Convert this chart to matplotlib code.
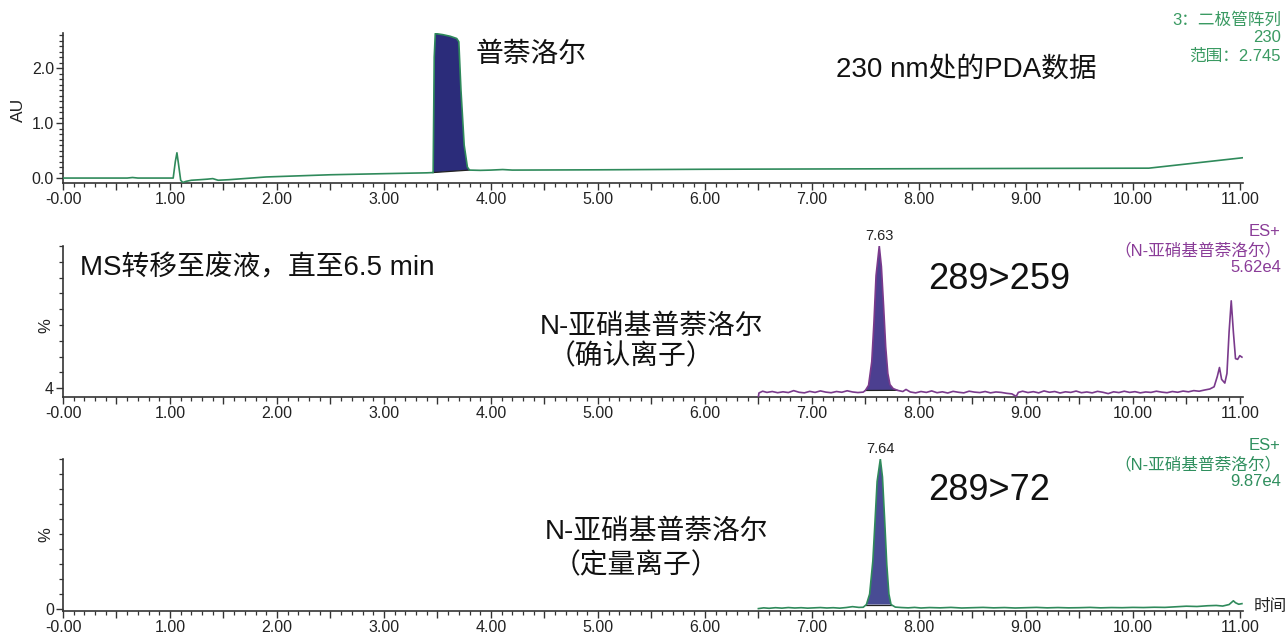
import matplotlib
matplotlib.use('Agg')
import matplotlib.pyplot as plt
from matplotlib.ticker import MultipleLocator, FixedLocator, FuncFormatter, NullFormatter

plt.rcParams['font.family'] = ['Liberation Sans', 'Noto Sans CJK SC', 'DejaVu Sans']

W, H = 1286, 634

# --- PDA channel, 230 nm (time in min, absorbance in AU) ---
pda_t = [0.00, 0.60, 0.65, 0.70, 1.03, 1.05, 1.065, 1.08, 1.10, 1.12, 1.15, 1.20,
         1.28, 1.35, 1.40, 1.45, 1.55, 1.90, 2.50, 3.00, 3.40, 3.46, 3.47, 3.48,
         3.55, 3.62, 3.68, 3.70, 3.72, 3.75, 3.78, 3.80, 3.90, 4.00, 4.11, 4.20,
         5.00, 6.00, 7.00, 8.00, 9.00, 10.15, 11.03]
pda_au = [0.00, 0.00, 0.01, 0.00, 0.00, 0.30, 0.46, 0.25, -0.04, -0.08, -0.06, -0.04,
          -0.03, -0.02, -0.01, -0.04, -0.03, 0.02, 0.06, 0.08, 0.095, 0.10, 2.20, 2.63,
          2.61, 2.58, 2.54, 2.48, 1.60, 0.60, 0.20, 0.145, 0.14, 0.145, 0.155, 0.145,
          0.15, 0.16, 0.165, 0.17, 0.175, 0.18, 0.37]
pda_window = (3.46, 3.80)

# --- MRM 289>259 (confirming ion), % of 5.62e4 ---
q_t = [6.50, 6.505, 6.54, 6.58, 6.63, 6.68, 6.73, 6.78, 6.83, 6.88, 6.93, 6.98,
       7.03, 7.08, 7.13, 7.18, 7.23, 7.28, 7.33, 7.38, 7.43, 7.48, 7.50, 7.53,
       7.56, 7.58, 7.60, 7.63, 7.65, 7.67, 7.69, 7.71, 7.73, 7.76, 7.80, 7.85,
       7.88, 7.92, 7.97, 8.02, 8.07, 8.12, 8.17, 8.22, 8.27, 8.32, 8.37, 8.42,
       8.47, 8.52, 8.57, 8.62, 8.67, 8.72, 8.77, 8.82, 8.87, 8.91, 8.93, 8.97,
       9.02, 9.07, 9.12, 9.17, 9.22, 9.27, 9.32, 9.37, 9.42, 9.47, 9.52, 9.57,
       9.62, 9.67, 9.72, 9.77, 9.82, 9.87, 9.92, 9.97, 10.02, 10.07, 10.12, 10.17,
       10.22, 10.27, 10.32, 10.37, 10.42, 10.47, 10.52, 10.57, 10.62, 10.67, 10.72,
       10.76, 10.79, 10.81, 10.83, 10.86, 10.88, 10.90, 10.92, 10.94, 10.96, 10.98,
       11.00, 11.02]
q_pct = [-1.9, 0.8, 2.0, 1.2, 1.8, 1.0, 1.6, 1.1, 2.4, 1.3, 0.9, 1.9,
         1.2, 2.2, 1.4, 1.0, 1.8, 1.3, 2.3, 1.5, 1.1, 1.4, 2.5, 6.0,
         22.0, 48.0, 80.0, 100.0, 86.0, 60.0, 32.0, 14.0, 6.5, 3.8, 2.6, 1.8,
         3.2, 1.5, 0.9, 1.8, 1.2, 2.2, 1.0, 1.6, 0.8, 1.9, 1.3, 0.9,
         2.0, 1.4, 1.1, 1.8, 0.9, 1.5, 1.2, 0.6, 0.2, -1.5, 1.2, 2.0,
         1.1, 1.7, 0.9, 2.2, 1.3, 1.8, 0.8, 1.6, 1.2, 2.1, 1.0, 1.5,
         0.9, 1.9, 1.3, 0.4, 1.6, 1.1, 2.0, 1.2, 1.7, 0.9, 1.5, 1.2,
         2.0, 1.4, 1.0, 1.8, 1.3, 2.1, 1.6, 2.4, 2.0, 2.8, 3.5,
         5.0, 12.0, 18.0, 10.0, 7.5, 14.0, 42.0, 63.0, 42.0, 24.0, 23.5,
         26.0, 25.0]
q_window = (7.49, 7.80)
q_rt = 7.63

# --- MRM 289>72 (quantifying ion), % of 9.87e4 ---
m_t = [6.50, 6.55, 6.60, 6.66, 6.72, 6.78, 6.84, 6.90, 6.96, 7.02, 7.08, 7.14,
       7.20, 7.26, 7.32, 7.38, 7.44, 7.48, 7.51, 7.54, 7.57, 7.59, 7.61, 7.64,
       7.66, 7.68, 7.70, 7.72, 7.74, 7.78, 7.84, 7.90, 7.96, 8.02, 8.10, 8.20,
       8.30, 8.40, 8.50, 8.60, 8.70, 8.80, 8.90, 9.00, 9.10, 9.20, 9.30, 9.40,
       9.50, 9.60, 9.70, 9.80, 9.90, 10.00, 10.10, 10.20, 10.30, 10.40, 10.50,
       10.60, 10.70, 10.78, 10.84, 10.90, 10.94, 10.96, 10.99, 11.02]
m_pct = [0.3, 0.8, 0.5, 0.9, 0.6, 1.0, 0.7, 0.9, 0.6, 0.8, 1.0, 0.7,
         0.9, 0.6, 1.0, 1.6, 1.1, 1.2, 3.0, 10.0, 32.0, 58.0, 85.0, 100.0,
         88.0, 60.0, 30.0, 10.0, 3.0, 1.3, 1.0, 0.8, 1.1, 0.7, 1.0, 0.8,
         1.1, 0.7, 0.9, 1.1, 0.8, 1.0, 0.7, 0.9, 1.1, 0.8, 1.0, 0.8,
         0.9, 1.1, 0.8, 1.0, 0.9, 1.1, 1.0, 1.2, 1.1, 1.5, 1.9,
         1.7, 2.2, 2.4, 2.0, 3.0, 5.5, 4.2, 3.2, 3.6]
m_window = (7.49, 7.76)
m_rt = 7.64

x_max = 11.03


def px(x, y):
    # pixel position -> figure fraction
    return x / W, 1 - y / H


def style_time_axis(ax):
    ax.set_xlim(0, x_max)
    ax.xaxis.set_major_locator(MultipleLocator(0.5))
    ax.xaxis.set_minor_locator(MultipleLocator(0.1))
    ax.xaxis.set_major_formatter(FuncFormatter(
        lambda v, p: ('-0.00' if abs(v) < 1e-9 else '%.2f' % v) if abs(v - round(v)) < 1e-6 else ''))
    for s in ('top', 'right'):
        ax.spines[s].set_visible(False)
    for s in ('left', 'bottom'):
        ax.spines[s].set_color('#333333')
        ax.spines[s].set_linewidth(1.2)
    ax.tick_params(which='major', length=5, width=1.0, color='#333333',
                   labelsize=11.5, labelcolor='#222222', pad=1.5)
    ax.tick_params(which='minor', length=3, width=0.9, color='#333333')


def draw_trace(ax, t, y, window, line_color, fill_color):
    ax.plot(t, y, color=line_color, lw=1.2, zorder=3)
    lo, hi = window
    seg = [(a, b) for a, b in zip(t, y) if lo <= a <= hi]
    xs = [a for a, b in seg]
    ys = [b for a, b in seg]
    ax.fill(xs + [xs[-1], xs[0]], ys + [ys[-1], ys[0]], color=fill_color, zorder=2, lw=0)
    ax.plot([xs[0], xs[-1]], [ys[0], ys[-1]], color='#222222', lw=0.9, zorder=2.5)


fig = plt.figure(figsize=(W / 100, H / 100), dpi=100)
left, width = 63 / W, (1243 - 63) / W

ax1 = fig.add_axes([left, 1 - 183 / H, width, 150 / H])
ax2 = fig.add_axes([left, 1 - 397 / H, width, 151 / H])
ax3 = fig.add_axes([left, 1 - 611 / H, width, 152 / H])

# PDA
draw_trace(ax1, pda_t, pda_au, pda_window, '#2f8a5b', '#2b2c7a')
style_time_axis(ax1)
ax1.set_ylim(-0.09, 2.64)
ax1.yaxis.set_major_locator(MultipleLocator(1.0))
ax1.yaxis.set_minor_locator(MultipleLocator(0.1))
ax1.yaxis.set_major_formatter(FuncFormatter(lambda v, p: '%.1f' % v))
ax1.set_ylabel('AU', fontsize=12.5, color='#222222')
ax1.yaxis.set_label_coords(-0.031, 0.49)

# 289>259
draw_trace(ax2, q_t, q_pct, q_window, '#7a3a8c', '#4c3f90')
style_time_axis(ax2)
ax2.set_ylim(-1.9, 100)
ax2.yaxis.set_major_locator(FixedLocator([4]))
ax2.yaxis.set_minor_locator(FixedLocator([4 + k * 96 / 9 for k in range(1, 10)]))
ax2.yaxis.set_major_formatter(FuncFormatter(lambda v, p: '%d' % v))
ax2.yaxis.set_minor_formatter(NullFormatter())
ax2.set_ylabel('%', fontsize=12, color='#222222')
ax2.yaxis.set_label_coords(-0.008, 0.47)
ax2.annotate('%.2f' % q_rt, (q_rt, max(q_pct)), xytext=(0, 2), textcoords='offset points',
             ha='center', va='bottom', fontsize=10.5, color='#222222')

# 289>72
draw_trace(ax3, m_t, m_pct, m_window, '#2f8a5b', '#484c94')
style_time_axis(ax3)
ax3.set_ylim(-1.3, 100)
ax3.yaxis.set_major_locator(FixedLocator([0]))
ax3.yaxis.set_minor_locator(FixedLocator(list(range(10, 101, 10))))
ax3.yaxis.set_major_formatter(FuncFormatter(lambda v, p: '%d' % v))
ax3.yaxis.set_minor_formatter(NullFormatter())
ax3.set_ylabel('%', fontsize=12, color='#222222')
ax3.yaxis.set_label_coords(-0.008, 0.5)
ax3.annotate('%.2f' % m_rt, (m_rt, max(m_pct)), xytext=(0, 2), textcoords='offset points',
             ha='center', va='bottom', fontsize=10.5, color='#222222')

# annotations
big = dict(fontsize=20, color='#111111', va='center', ha='left')
fig.text(*px(476, 55), '普萘洛尔', **big)
fig.text(*px(836, 70), '230 nm处的PDA数据', **big)
fig.text(*px(80, 268), 'MS转移至废液，直至6.5 min', **big)
fig.text(*px(540, 327), 'N-亚硝基普萘洛尔', **big)
fig.text(*px(548, 357), '（确认离子）', **big)
fig.text(*px(545, 532), 'N-亚硝基普萘洛尔', **big)
fig.text(*px(553, 566), '（定量离子）', **big)
fig.text(*px(928, 280), '289>259', fontsize=26, color='#111111', va='center', ha='left')
fig.text(*px(928, 490), '289>72', fontsize=26, color='#111111', va='center', ha='left')
fig.text(*px(1254, 607), '时间', fontsize=12, color='#222222', va='center', ha='left')

side = dict(fontsize=12, ha='right', va='center')
for y, s in zip([20, 38, 56], ['3：二极管阵列', '230', '范围：2.745']):
    fig.text(*px(1281, y), s, color='#3a9a62', **side)
for y, s in zip([232, 250, 267], ['ES+', '（N-亚硝基普萘洛尔）', '5.62e4']):
    fig.text(*px(1281, y), s, color='#8a3c98', **side)
for y, s in zip([446, 464, 481], ['ES+', '（N-亚硝基普萘洛尔）', '9.87e4']):
    fig.text(*px(1281, y), s, color='#2f8f5e', **side)

fig.savefig('out.png', dpi=100)
